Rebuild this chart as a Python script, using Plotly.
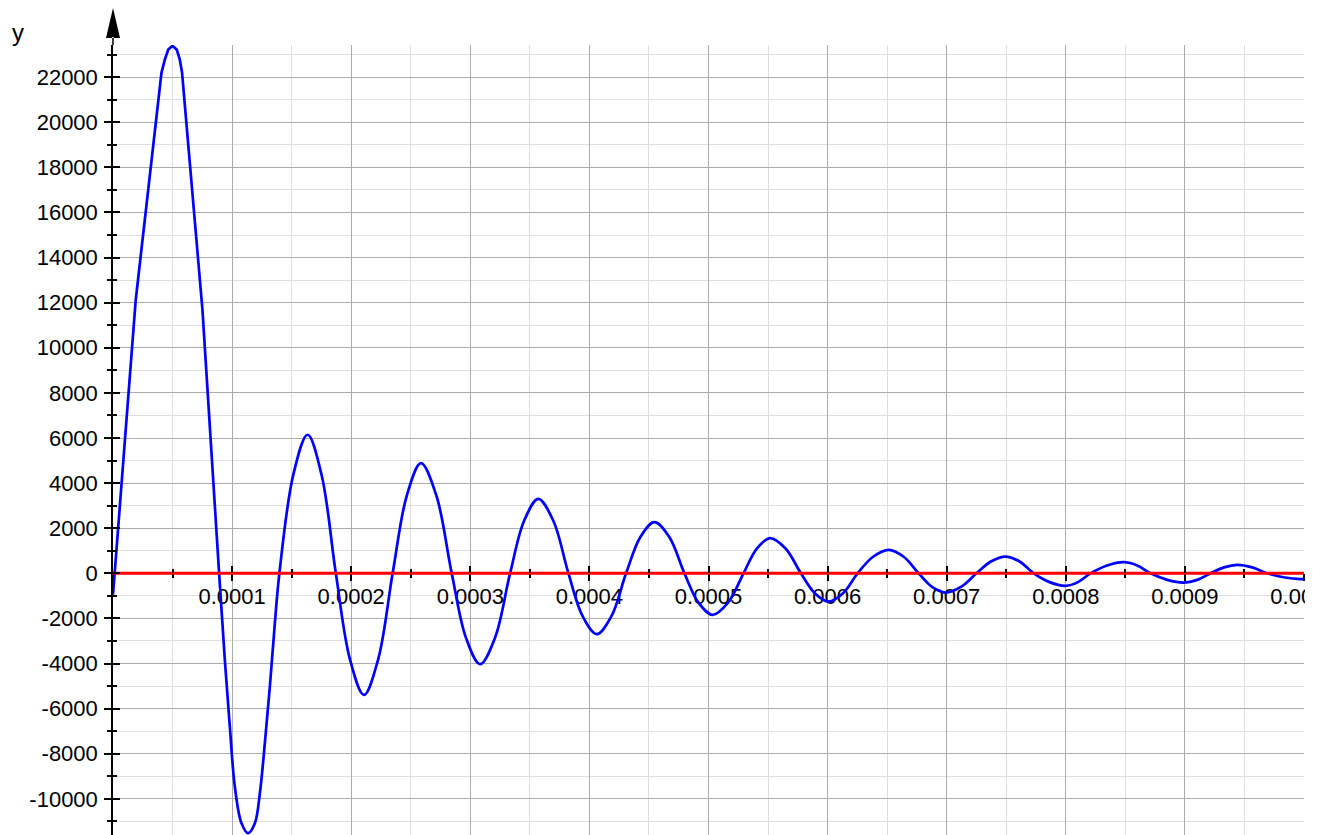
import plotly.graph_objects as go

# ---------------- data ----------------
# first lobe (drawn with straight segments, as in the reference)
lobe_x = [0, 1.91e-5, 4.07e-5, 4.35e-5, 4.64e-5, 4.99e-5, 5.35e-5, 5.61e-5, 5.80e-5, 7.51e-5, 8.91e-5]
lobe_y = [-950, 12130, 22190, 22780, 23220, 23390, 23220, 22780, 22190, 11690, 0]

# damped oscillation after the first lobe
tail_x = [8.91e-5, 9.39e-5, 9.81e-5, 10.23e-5, 10.79e-5, 11.34e-5, 11.91e-5, 12.33e-5, 12.75e-5,
          13.17e-5, 13.59e-5, 13.97e-5, 15.15e-5, 16.34e-5, 17.52e-5, 18.71e-5, 19.89e-5, 21.07e-5,
          22.27e-5, 23.48e-5, 24.67e-5, 25.86e-5, 27.15e-5, 28.44e-5, 29.63e-5, 30.82e-5, 32.08e-5,
          33.34e-5, 34.52e-5, 35.71e-5, 36.97e-5, 38.24e-5, 39.43e-5, 40.62e-5, 41.85e-5, 43.08e-5,
          44.27e-5, 45.46e-5, 46.72e-5, 47.98e-5, 49.16e-5, 50.34e-5, 51.64e-5, 52.94e-5, 54.06e-5,
          55.18e-5, 56.47e-5, 57.76e-5, 58.92e-5, 60.08e-5, 61.30e-5, 62.52e-5, 63.82e-5, 65.13e-5,
          66.39e-5, 67.65e-5, 68.77e-5, 69.89e-5, 71.20e-5, 72.50e-5, 73.71e-5, 74.93e-5, 76.12e-5,
          77.31e-5, 78.64e-5, 79.97e-5, 81.02e-5, 82.08e-5, 83.47e-5, 84.87e-5, 86.00e-5, 87.12e-5,
          88.52e-5, 89.92e-5, 91.04e-5, 92.16e-5, 93.28e-5, 94.40e-5, 95.66e-5, 96.92e-5, 98.40e-5,
          99.70e-5, 100.0e-5]
tail_y = [0, -3838, -6797, -9459, -11083, -11520, -11083, -9752, -7533,
          -5022, -2209, 0, 4400, 6145, 4350, 0, -3800, -5390,
          -3800, 0, 3450, 4889, 3450, 0, -2850, -4028, -2850,
          0, 2330, 3305, 2330, 0, -1900, -2697, -1900, 0,
          1600, 2271, 1600, 0, -1300, -1841, -1300, 0, 1100,
          1562, 1100, 0, -880, -1251, -880, 0, 735, 1043,
          735, 0, -600, -852, -600, 0, 525, 745, 525,
          0, -390, -555, -390, 0, 350, 497, 350, 0,
          -290, -408, -290, 0, 265, 377, 265, 0, -185,
          -258, -255]

# red zero line
zero_x = [0, 0.001]
zero_y = [0, 0]

# ticks
x_tickvals = [0.0001, 0.0002, 0.0003, 0.0004, 0.0005, 0.0006, 0.0007, 0.0008, 0.0009, 0.001]
x_ticktext = ["0.0001", "0.0002", "0.0003", "0.0004", "0.0005", "0.0006", "0.0007", "0.0008", "0.0009", "0.0010"]
y_tickvals = [-10000, -8000, -6000, -4000, -2000, 0, 2000, 4000, 6000, 8000, 10000,
              12000, 14000, 16000, 18000, 20000, 22000]
y_ticktext = ["-10000", "-8000", "-6000", "-4000", "-2000", "0", "2000", "4000", "6000", "8000", "10000",
              "12000", "14000", "16000", "18000", "20000", "22000"]

X_RANGE = [0, 0.001]
Y_RANGE = [-11602, 23425]

FONT = "Liberation Sans, Arial, Helvetica, sans-serif"
MAJOR_GRID = "#ababab"
MINOR_GRID = "#dedede"

fig = go.Figure()
fig.add_trace(go.Scatter(x=lobe_x, y=lobe_y, mode="lines",
                         line=dict(color="#0000ff", width=2.7), showlegend=False, hoverinfo="skip"))
fig.add_trace(go.Scatter(x=tail_x, y=tail_y, mode="lines",
                         line=dict(color="#0000ff", width=2.7, shape="spline", smoothing=1),
                         showlegend=False, hoverinfo="skip"))
fig.add_trace(go.Scatter(x=zero_x, y=zero_y, mode="lines", xaxis="x2", yaxis="y2",
                         line=dict(color="#ff0000", width=3), showlegend=False, hoverinfo="skip"))

xpos = (0 - Y_RANGE[0]) / (Y_RANGE[1] - Y_RANGE[0])

common_tick = dict(tickcolor="black", tickwidth=1.5)

fig.update_layout(
    width=1322, height=835,
    margin=dict(l=105, r=26, t=37, b=8, pad=0, autoexpand=False),
    paper_bgcolor="white", plot_bgcolor="white",
    font=dict(family=FONT, size=22, color="black"),
    xaxis=dict(
        range=X_RANGE, anchor="free", position=xpos, layer="below traces",
        tickmode="array", tickvals=x_tickvals, ticktext=x_ticktext,
        ticks="outside", ticklen=7, **common_tick,
        showgrid=True, gridcolor=MAJOR_GRID, gridwidth=1,
        showline=False, zeroline=False,
        tickfont=dict(family=FONT, size=22, color="black"),
        ticklabelstandoff=-4, ticklabeloverflow="allow",
        minor=dict(tickmode="linear", tick0=0, dtick=0.00005, ticks="outside", ticklen=4,
                   tickcolor="black", tickwidth=1.5, showgrid=True, gridcolor=MINOR_GRID, gridwidth=1),
        fixedrange=True,
    ),
    xaxis2=dict(
        range=X_RANGE, overlaying="x", anchor="free", position=xpos,
        tickmode="array", tickvals=x_tickvals, ticks="inside", ticklen=7, **common_tick,
        showticklabels=False, showgrid=False, zeroline=False, showline=False,
        minor=dict(tickmode="linear", tick0=0, dtick=0.00005, ticks="inside", ticklen=4,
                   tickcolor="black", tickwidth=1.5, showgrid=False),
        fixedrange=True,
    ),
    yaxis=dict(
        range=Y_RANGE, layer="below traces",
        tickmode="array", tickvals=y_tickvals, ticktext=y_ticktext,
        ticks="outside", ticklen=7, **common_tick,
        showgrid=True, gridcolor=MAJOR_GRID, gridwidth=1,
        showline=True, linecolor="black", linewidth=1.5, zeroline=False,
        tickfont=dict(family=FONT, size=22, color="black"),
        ticklabelstandoff=2,
        minor=dict(tickmode="linear", tick0=0, dtick=1000, ticks="outside", ticklen=4,
                   tickcolor="black", tickwidth=1.5, showgrid=True, gridcolor=MINOR_GRID, gridwidth=1),
        fixedrange=True,
    ),
    yaxis2=dict(
        range=Y_RANGE, overlaying="y", anchor="x", side="left",
        tickmode="array", tickvals=y_tickvals, ticks="inside", ticklen=7, **common_tick,
        showticklabels=False, showgrid=False, zeroline=False, showline=False,
        minor=dict(tickmode="linear", tick0=0, dtick=1000, ticks="inside", ticklen=4,
                   tickcolor="black", tickwidth=1.5, showgrid=False),
        fixedrange=True,
    ),
    shapes=[
        # arrow head on top of the y axis
        dict(type="path", xref="paper", yref="paper", xsizemode="pixel", ysizemode="pixel",
             xanchor=0, yanchor=1,
             path="M -7,7 L 7,7 L 0,37 Z M -0.75,0 L 0.75,0 L 0.75,8 L -0.75,8 Z",
             fillcolor="black", line=dict(width=0), layer="above"),
        # area right of the plot (last x label is cut in the reference)
        dict(type="rect", xref="paper", yref="paper", x0=1.0008, x1=1.2, y0=-0.1, y1=1.1,
             fillcolor="white", line=dict(width=0), layer="above"),
    ],
    annotations=[
        dict(text="y", xref="paper", yref="paper", x=0, y=1, xanchor="left", yanchor="bottom",
             xshift=-103, yshift=-3, showarrow=False, font=dict(family=FONT, size=24, color="black")),
    ],
)

fig.write_html("out.html")
